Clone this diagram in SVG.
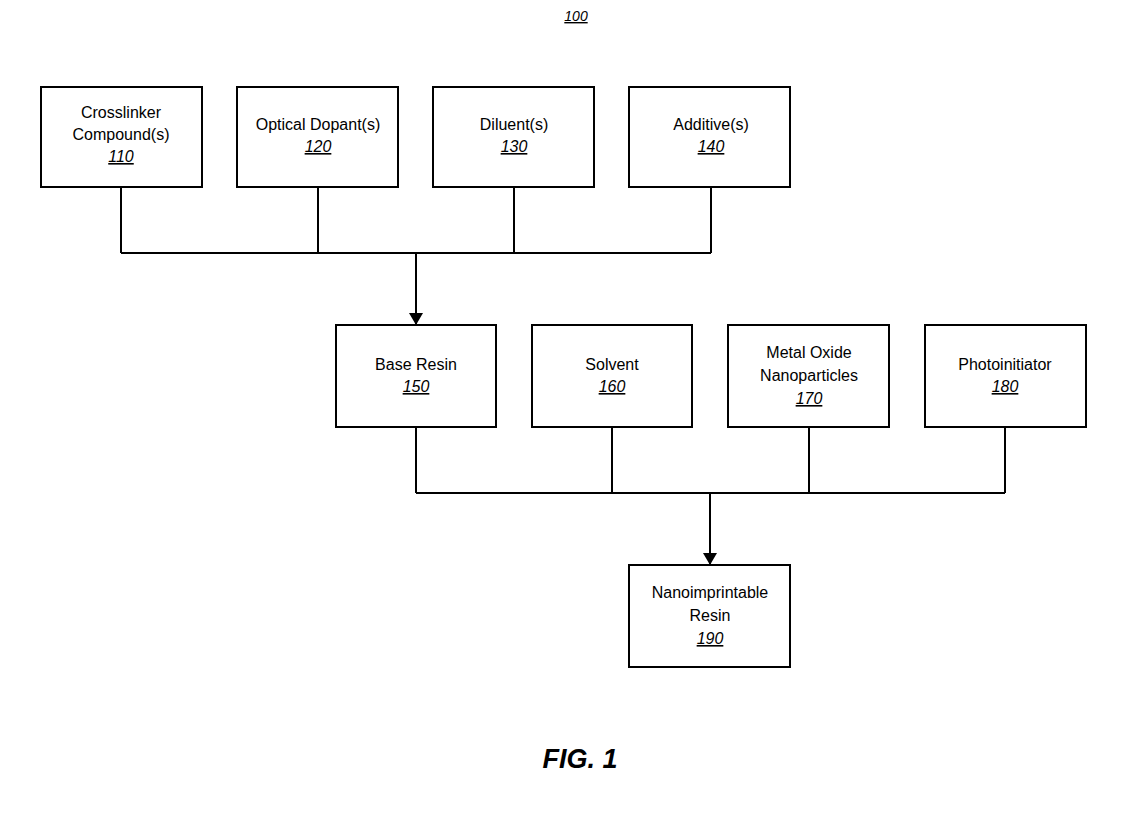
<svg xmlns="http://www.w3.org/2000/svg" width="1126" height="814" viewBox="0 0 1126 814">
<style>
.b{fill:#fff;stroke:#000;stroke-width:2}
text{font-family:"Liberation Sans",Arial,sans-serif;font-size:16px;text-anchor:middle;fill:#000}
.n{font-style:italic;text-decoration:underline}
.c{fill:none;stroke:#000;stroke-width:2}
.fig{font-size:27px;font-weight:bold;font-style:italic}
</style>
<defs><marker id="a" markerWidth="12" markerHeight="14" refX="12" refY="7" orient="auto" markerUnits="userSpaceOnUse"><path d="M0,0L12,7L0,14z"/></marker></defs>
<rect width="1126" height="814" fill="#fff"/>
<text x="576" y="21" class="n" style="font-size:14px">100</text>
<g id="connectors">
<path class="c" d="M121,187V253M318,187V253M514,187V253M711,187V253M121,253H711"/>
<path class="c" d="M416,253V325" marker-end="url(#a)"/>
<path class="c" d="M416,427V493M612,427V493M809,427V493M1005,427V493M416,493H1005"/>
<path class="c" d="M710,493V565" marker-end="url(#a)"/>
</g>
<g id="n110"><rect class="b" x="41" y="87" width="161" height="100"/><text x="121" y="118">Crosslinker</text><text x="121" y="140">Compound(s)</text><text x="121" y="162" class="n">110</text></g>
<g id="n120"><rect class="b" x="237" y="87" width="161" height="100"/><text x="318" y="130">Optical Dopant(s)</text><text x="318" y="152" class="n">120</text></g>
<g id="n130"><rect class="b" x="433" y="87" width="161" height="100"/><text x="514" y="130">Diluent(s)</text><text x="514" y="152" class="n">130</text></g>
<g id="n140"><rect class="b" x="629" y="87" width="161" height="100"/><text x="711" y="130">Additive(s)</text><text x="711" y="152" class="n">140</text></g>
<g id="n150"><rect class="b" x="336" y="325" width="160" height="102"/><text x="416" y="370">Base Resin</text><text x="416" y="392" class="n">150</text></g>
<g id="n160"><rect class="b" x="532" y="325" width="160" height="102"/><text x="612" y="370">Solvent</text><text x="612" y="392" class="n">160</text></g>
<g id="n170"><rect class="b" x="728" y="325" width="161" height="102"/><text x="809" y="358">Metal Oxide</text><text x="809" y="381">Nanoparticles</text><text x="809" y="404" class="n">170</text></g>
<g id="n180"><rect class="b" x="925" y="325" width="161" height="102"/><text x="1005" y="370">Photoinitiator</text><text x="1005" y="392" class="n">180</text></g>
<g id="n190"><rect class="b" x="629" y="565" width="161" height="102"/><text x="710" y="598">Nanoimprintable</text><text x="710" y="621">Resin</text><text x="710" y="644" class="n">190</text></g>
<text x="580" y="768" class="fig">FIG. 1</text>
</svg>
